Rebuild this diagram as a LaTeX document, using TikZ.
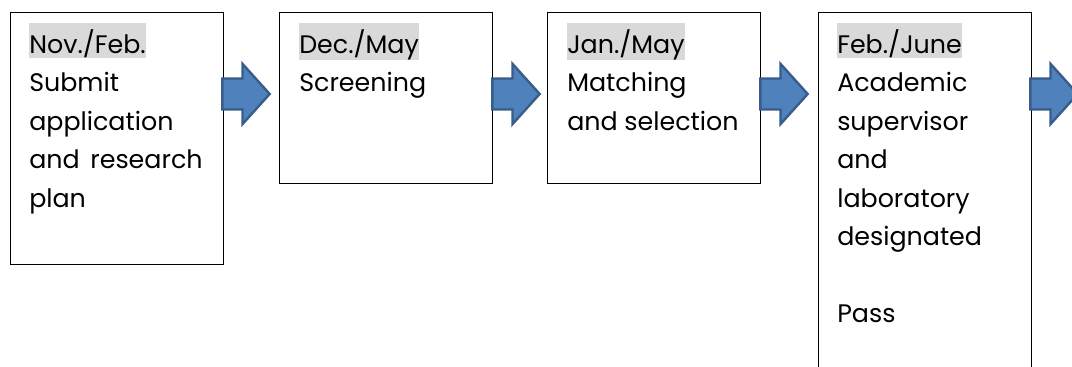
\documentclass[tikz,border=0pt]{standalone}
\usepackage{fontspec}
\setmainfont{Poppins}
\usetikzlibrary{shapes.arrows}
\definecolor{hlgray}{HTML}{D9D9D9}
\definecolor{arrowfill}{HTML}{4F81BD}
\definecolor{arrowline}{HTML}{385D8A}
\newcommand{\hlt}[1]{{\setlength{\fboxsep}{0pt}\colorbox{hlgray}{\rule[-0.2em]{0pt}{1.38em}#1}}}

\begin{document}
\begin{tikzpicture}[x=0.75pt,y=-0.75pt,
		box_style/.style={rectangle,draw=black,line width=0.75pt,anchor=north west,inner sep=0pt,minimum width=159.75pt},
		text_style/.style={anchor=north west,inner sep=0pt,align=left,font=\fontsize{19pt}{28.9pt}\selectfont},
		arrow_style/.style={single arrow,draw=arrowline,fill=arrowfill,line width=1.8pt,inner sep=0pt,
			minimum height=35.5pt,single arrow head extend=11pt,single arrow tip angle=96}]
		
		\useasboundingbox (0,0) rectangle (1072,367);
		\clip (0,0) rectangle (1072,367);
		
		\node[box_style,minimum height=189pt] (b1) at (10,12)  {};
		\node[box_style,minimum height=128.25pt] (b2) at (279,12)  {};
		\node[box_style,minimum height=128.25pt] (b3) at (547,12)  {};
		\node[box_style,minimum height=285pt] (b4) at (818,12)  {};
		
		\node[text_style] (t1) at (29,23) {\hlt{Nov./Feb.}\\Submit\\application\\\makebox[130pt][s]{and research}\\plan};
		\node[text_style] (t2) at (299,23) {\hlt{Dec./May}\\Screening};
		\node[text_style] (t3) at (567,23) {\hlt{Jan./May}\\Matching\\and selection};
		\node[text_style] (t4) at (837,23) {\hlt{Feb./June}\\Academic\\supervisor\\and\\laboratory\\designated\\[28.9pt]Pass};
		
		\node[arrow_style] (a1) at (239,94) {\rule{0pt}{21.5pt}};
		\node[arrow_style] (a2) at (509,94) {\rule{0pt}{21.5pt}};
		\node[arrow_style] (a3) at (777,94) {\rule{0pt}{21.5pt}};
		\node[arrow_style] (a4) at (1047,94) {\rule{0pt}{21.5pt}};

		\end{tikzpicture}
\end{document}
